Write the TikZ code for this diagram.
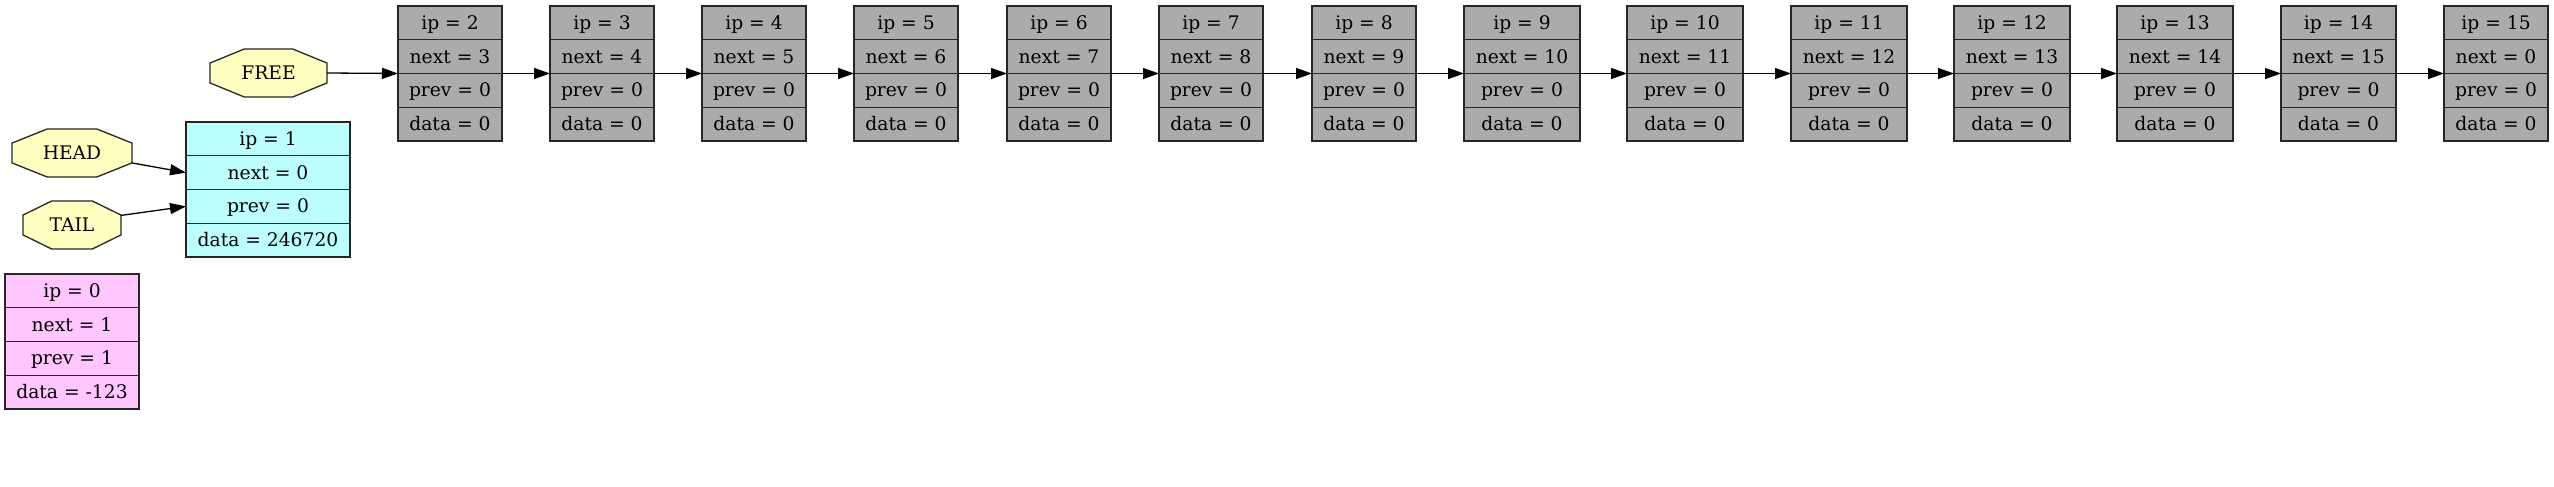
\documentclass[tikz,border=0pt]{standalone}
\usepackage{fontspec}
\setmainfont{DejaVu Serif}
\usetikzlibrary{arrows.meta,calc,backgrounds}
\definecolor{freegray}{HTML}{ABABAB}
\definecolor{usedcyan}{HTML}{BBFFFF}
\definecolor{zeropink}{HTML}{FFC6FF}
\definecolor{octyellow}{HTML}{FFFFC0}
\tikzset{
  cell/.style={draw=black!85, line width=1.4pt, inner sep=0pt, outer sep=0pt,
    minimum height=33.75pt, text height=16.8pt, text depth=4pt,
    font=\fontsize{18.7}{22}\selectfont},
  octlabel/.style={draw=none, inner sep=0pt, outer sep=0pt, minimum height=48pt,
    text height=16.8pt, text depth=3pt, font=\fontsize{18.7}{22}\selectfont},
  octshape/.style={draw=black!85, line width=1.3pt, fill=octyellow},
  arr/.style={line width=1.3pt, -{Triangle[length=16pt,width=11pt]}},
}
\newcommand\rec[8]{%
  \node[cell,fill=#4,minimum width=#3pt,anchor=north west] (#1a) at (#2) {#5};
  \node[cell,fill=#4,minimum width=#3pt,anchor=north] (#1b) at (#1a.south) {#6};
  \node[cell,fill=#4,minimum width=#3pt,anchor=north] (#1c) at (#1b.south) {#7};
  \node[cell,fill=#4,minimum width=#3pt,anchor=north] (#1d) at (#1c.south) {#8};}
\newcommand\octo[1]{%
  \path[octshape] ($(#1.north west)!0.2929!(#1.north east)$)
    -- ($(#1.north west)!0.7071!(#1.north east)$)
    -- ($(#1.north east)!0.2929!(#1.south east)$)
    -- ($(#1.north east)!0.7071!(#1.south east)$)
    -- ($(#1.south east)!0.2929!(#1.south west)$)
    -- ($(#1.south east)!0.7071!(#1.south west)$)
    -- ($(#1.south west)!0.2929!(#1.north west)$)
    -- ($(#1.south west)!0.7071!(#1.north west)$) -- cycle;}
\begin{document}
\begin{tikzpicture}[x=1pt,y=-1pt]
\useasboundingbox (0,0) rectangle (2554,487);
% octagon labels
\node[octlabel,minimum width=117pt] (FREE) at (268.5,73) {FREE};
\node[octlabel,minimum width=120pt] (HEAD) at (72,153) {HEAD};
\node[octlabel,minimum width=98pt] (TAIL) at (72,225) {TAIL};
\begin{scope}[on background layer]
  \octo{FREE}\octo{HEAD}\octo{TAIL}
\end{scope}
% records
\rec{z}{5,274}{134}{zeropink}{ip = 0}{next = 1}{prev = 1}{data = -123}
\rec{u}{186,122}{164}{usedcyan}{ip = 1}{next = 0}{prev = 0}{data = 246720}
\rec{f2}{398,6}{104}{freegray}{ip = 2}{next = 3}{prev = 0}{data = 0}
\rec{f3}{550,6}{104}{freegray}{ip = 3}{next = 4}{prev = 0}{data = 0}
\rec{f4}{702,6}{104}{freegray}{ip = 4}{next = 5}{prev = 0}{data = 0}
\rec{f5}{854,6}{104}{freegray}{ip = 5}{next = 6}{prev = 0}{data = 0}
\rec{f6}{1007,6}{104}{freegray}{ip = 6}{next = 7}{prev = 0}{data = 0}
\rec{f7}{1159,6}{104}{freegray}{ip = 7}{next = 8}{prev = 0}{data = 0}
\rec{f8}{1312,6}{104}{freegray}{ip = 8}{next = 9}{prev = 0}{data = 0}
\rec{f9}{1464,6}{116}{freegray}{ip = 9}{next = 10}{prev = 0}{data = 0}
\rec{f10}{1627,6}{116}{freegray}{ip = 10}{next = 11}{prev = 0}{data = 0}
\rec{f11}{1791,6}{116}{freegray}{ip = 11}{next = 12}{prev = 0}{data = 0}
\rec{f12}{1954,6}{116}{freegray}{ip = 12}{next = 13}{prev = 0}{data = 0}
\rec{f13}{2117,6}{116}{freegray}{ip = 13}{next = 14}{prev = 0}{data = 0}
\rec{f14}{2281,6}{115}{freegray}{ip = 14}{next = 15}{prev = 0}{data = 0}
\rec{f15}{2444,6}{104}{freegray}{ip = 15}{next = 0}{prev = 0}{data = 0}
% connectors
\draw[arr] (FREE.east) -- (f2b.south west);
\foreach \i [evaluate=\i as \j using int(\i+1)] in {2,...,14}
  \draw[arr] (f\i b.south east) -- (f\j b.south west);
\draw[arr] ($(HEAD.north east)!0.7071!(HEAD.south east)$) -- (ub.west);
\draw[arr] ($(TAIL.east)!0.4!(TAIL.north east)$) -- (uc.west);
\end{tikzpicture}
\end{document}
